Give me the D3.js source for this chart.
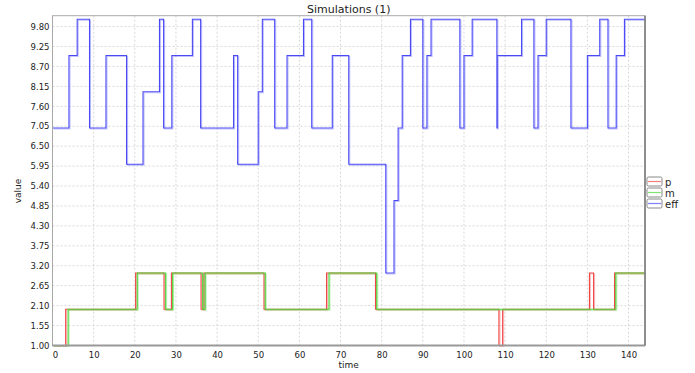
<!DOCTYPE html>
<html>
<head>
<meta charset="utf-8">
<script src="https://cdn.jsdelivr.net/npm/d3@7"></script>
<style>
  body { margin: 0; background: #fff; }
  text { font-family: "DejaVu Sans", sans-serif; fill: #222; }
</style>
</head>
<body>
<div id="chart"></div>
<script>
// step data: each value holds from its time until the next time
const effTimes = [0, 4, 6, 9, 13, 18, 22, 26, 27, 29, 34, 36, 44, 45, 50, 51, 54, 57, 61, 63, 68, 72, 81, 83, 84, 85, 87, 90, 91, 92, 99, 100, 102, 108, 108.1, 114, 117, 118, 120, 126, 130, 133, 135, 137, 139, 144];
const effValues = [7, 9, 10, 7, 9, 6, 8, 10, 7, 9, 10, 7, 9, 6, 8, 10, 7, 9, 10, 7, 9, 6, 3, 5, 7, 9, 10, 7, 9, 10, 7, 9, 10, 7, 9, 10, 7, 9, 10, 7, 9, 10, 7, 9, 10, 10];

const pTimes = [0, 3.2, 20.2, 27.1, 28.9, 36.1, 36.8, 51.4, 66.6, 78.5, 108.5, 109.4, 130.5, 131.5, 136.6, 144];
const pValues = [1, 2, 3, 2, 3, 2, 3, 2, 3, 2, 1, 2, 3, 2, 3, 3];

const mTimes = [0, 3.8, 20.6, 27.5, 29.2, 36.5, 37.1, 51.7, 67.2, 78.8, 136.9, 144];
const mValues = [1, 2, 3, 2, 3, 2, 3, 2, 3, 2, 3, 3];

const xTicks = [0, 10, 20, 30, 40, 50, 60, 70, 80, 90, 100, 110, 120, 130, 140];
const yTicks = [1.00, 1.55, 2.10, 2.65, 3.20, 3.75, 4.30, 4.85, 5.40, 5.95, 6.50, 7.05, 7.60, 8.15, 8.70, 9.25, 9.80];

const seriesNames = ["p", "m", "eff"];
const seriesColors = ["#f04848", "#4ad83a", "#4a4af5"];

const margin = { top: 15.7, right: 50, bottom: 27.5, left: 52.5 };
const width = 695 - margin.left - margin.right;
const height = 373 - margin.top - margin.bottom;

const svg = d3.select("#chart")
  .append("svg")
  .attr("width", 695)
  .attr("height", 373);

const g = svg.append("g")
  .attr("transform", `translate(${margin.left},${margin.top})`);

const x = d3.scaleLinear().domain([0, 144]).range([0, width]);
const y = d3.scaleLinear().domain([1, 10.1]).range([height, 0]);

// grid
g.append("g")
  .selectAll("line")
  .data(xTicks.slice(1))
  .join("line")
  .attr("x1", d => x(d)).attr("x2", d => x(d))
  .attr("y1", 0).attr("y2", height)
  .attr("stroke", "#d8d8d8")
  .attr("stroke-dasharray", "2,2");

g.append("g")
  .selectAll("line")
  .data(yTicks.slice(1))
  .join("line")
  .attr("x1", 0).attr("x2", width)
  .attr("y1", d => y(d)).attr("y2", d => y(d))
  .attr("stroke", "#d8d8d8")
  .attr("stroke-dasharray", "2,2");

// axes
const xAxis = g.append("g")
  .attr("transform", `translate(0,${height})`)
  .call(d3.axisBottom(x).tickValues(xTicks).tickSize(0).tickPadding(6));
xAxis.select(".domain").remove();
xAxis.selectAll("text").style("font-size", "8.5px").attr("fill", "#222");
xAxis.selectAll(".tick").filter(d => d === 0).select("text").attr("dx", "2.5");

const yAxis = g.append("g")
  .call(d3.axisLeft(y).tickValues(yTicks).tickFormat(d3.format(".2f")).tickSize(0).tickPadding(3));
yAxis.select(".domain").remove();
yAxis.selectAll("text").style("font-size", "8.5px").attr("fill", "#222");

// lines
const line = d3.line()
  .x(d => x(d[0]))
  .y(d => y(d[1]))
  .curve(d3.curveStepAfter);

const series = [
  d3.zip(pTimes, pValues),
  d3.zip(mTimes, mValues),
  d3.zip(effTimes, effValues)
];

series.forEach((pts, i) => {
  // soft shadow copy, as in the reference rendering
  g.append("path")
    .datum(pts)
    .attr("fill", "none")
    .attr("stroke", seriesColors[i])
    .attr("stroke-opacity", 0.35)
    .attr("stroke-width", 1.1)
    .attr("transform", "translate(1,1)")
    .attr("d", line);
  g.append("path")
    .datum(pts)
    .attr("fill", "none")
    .attr("stroke", seriesColors[i])
    .attr("stroke-width", 1.1)
    .attr("d", line);
});

// frame
g.append("rect")
  .attr("width", width).attr("height", height)
  .attr("fill", "none")
  .attr("stroke", "#a8a8a8")
  .attr("stroke-width", 1);
g.append("line")
  .attr("x1", 0).attr("x2", width).attr("y1", height).attr("y2", height)
  .attr("stroke", "#999").attr("stroke-width", 2);
g.append("line")
  .attr("x1", width).attr("x2", width).attr("y1", 0).attr("y2", height)
  .attr("stroke", "#777").attr("stroke-width", 1.5);

// title and labels
svg.append("text")
  .attr("x", margin.left + width / 2).attr("y", 12.5)
  .attr("text-anchor", "middle")
  .style("font-size", "11px")
  .text("Simulations (1)");

svg.append("text")
  .attr("x", margin.left + width / 2).attr("y", 368)
  .attr("text-anchor", "middle")
  .style("font-size", "9px")
  .text("time");

svg.append("text")
  .attr("transform", "translate(21,191) rotate(-90)")
  .attr("text-anchor", "middle")
  .style("font-size", "9px")
  .text("value");

// legend
const legend = svg.append("g").attr("transform", "translate(647,177)");
seriesNames.forEach((name, i) => {
  const row = legend.append("g").attr("transform", `translate(0,${i * 11})`);
  row.append("rect")
    .attr("width", 15).attr("height", 9).attr("rx", 1.5)
    .attr("fill", "#fff").attr("stroke", "#888");
  row.append("line")
    .attr("x1", 1).attr("x2", 14).attr("y1", 4.5).attr("y2", 4.5)
    .attr("stroke", seriesColors[i]).attr("stroke-opacity", 0.7).attr("stroke-width", 1.2);
  row.append("text")
    .attr("x", 18).attr("y", 8.5)
    .style("font-size", "10px")
    .text(name);
});
</script>
</body>
</html>
